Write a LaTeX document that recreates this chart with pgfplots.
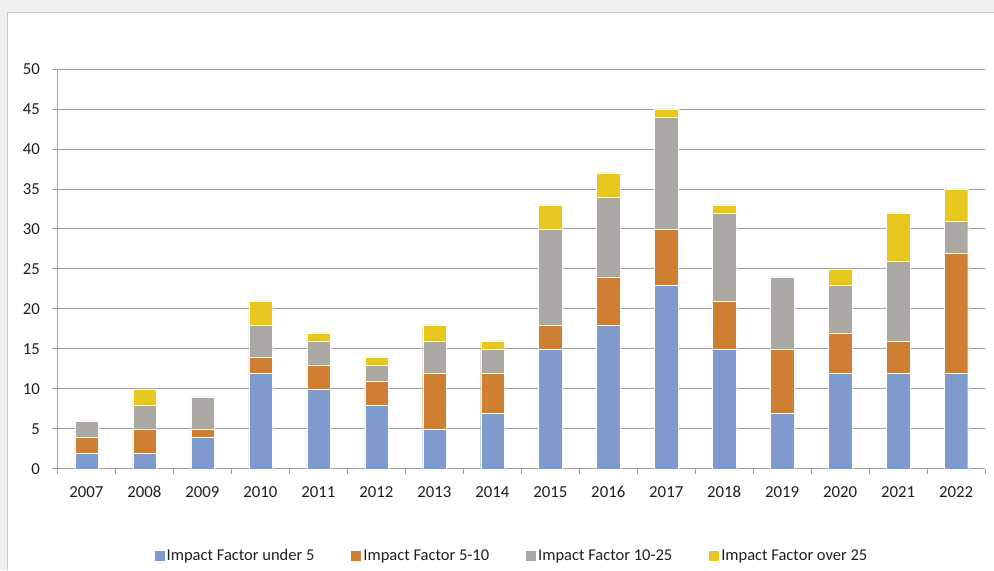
\documentclass[border=0pt]{standalone}
\usepackage{pgfplots}
\pgfplotsset{compat=1.18}
\usepackage{fontspec}
\setmainfont{Carlito}
\definecolor{cblue}{HTML}{7F9BCD}
\definecolor{corange}{HTML}{CF7F32}
\definecolor{cgray}{HTML}{ABA7A3}
\definecolor{cyellow}{HTML}{E8C71F}
\definecolor{gridc}{HTML}{A0A0A0}
\definecolor{txt}{HTML}{1F1F1F}
\begin{document}
\begin{tikzpicture}[x=1bp,y=1bp]
\fill[black!6] (0,0) rectangle (994,570);
\fill[white] (7.5,0) rectangle (994,558);
\draw[black!22,line width=0.8bp] (7.5,0) -- (7.5,558) -- (994,558);
\begin{axis}[
  at={(57.5bp,101bp)}, anchor=south west,
  scale only axis, width=928bp, height=400bp,
  ybar stacked, bar width=0.4,
  xmin=-0.5, xmax=15.5, ymin=0, ymax=50,
  xtick={0,...,15},
  xticklabels={2007,2008,2009,2010,2011,2012,2013,2014,2015,2016,2017,2018,2019,2020,2021,2022},
  minor xtick={-0.5,0.5,...,15.5},
  ytick={0,5,...,50},
  axis lines*=left,
  axis line style={draw=gridc, line width=0.8bp},
  ymajorgrids, grid style={draw=gridc, line width=0.8bp},
  tick align=outside,
  major tick length=5bp, minor tick length=5bp,
  xtick style={draw=none},
  minor x tick style={draw=gridc, line width=0.8bp},
  ytick style={draw=gridc, line width=0.8bp},
  /pgf/number format/assume math mode=true,
  tick label style={font=\fontsize{16.8bp}{19bp}\selectfont, text=txt},
  yticklabel style={xshift=-9bp},
  xticklabel style={anchor=base, yshift=-24bp},
  legend style={at={(rel axis cs:0.49,-0.2175)}, anchor=center, draw=none, fill=none,
    legend columns=4, font=\fontsize{16.5bp}{19bp}\selectfont, text=txt,
    /tikz/every even column/.append style={column sep=35bp}},
  legend image code/.code={\fill[#1,draw=none] (0bp,-5bp) rectangle (10bp,5bp);},
  every axis plot/.append style={draw=white, line width=0.4bp},
]
\addplot[fill=cblue] coordinates {(0,2)(1,2)(2,4)(3,12)(4,10)(5,8)(6,5)(7,7)(8,15)(9,18)(10,23)(11,15)(12,7)(13,12)(14,12)(15,12)};
\addplot[fill=corange] coordinates {(0,2)(1,3)(2,1)(3,2)(4,3)(5,3)(6,7)(7,5)(8,3)(9,6)(10,7)(11,6)(12,8)(13,5)(14,4)(15,15)};
\addplot[fill=cgray] coordinates {(0,2)(1,3)(2,4)(3,4)(4,3)(5,2)(6,4)(7,3)(8,12)(9,10)(10,14)(11,11)(12,9)(13,6)(14,10)(15,4)};
\addplot[fill=cyellow] coordinates {(0,0)(1,2)(2,0)(3,3)(4,1)(5,1)(6,2)(7,1)(8,3)(9,3)(10,1)(11,1)(12,0)(13,2)(14,6)(15,4)};
\legend{Impact Factor under 5,Impact Factor 5-10,Impact Factor 10-25,Impact Factor over 25}
\end{axis}
\end{tikzpicture}
\end{document}
